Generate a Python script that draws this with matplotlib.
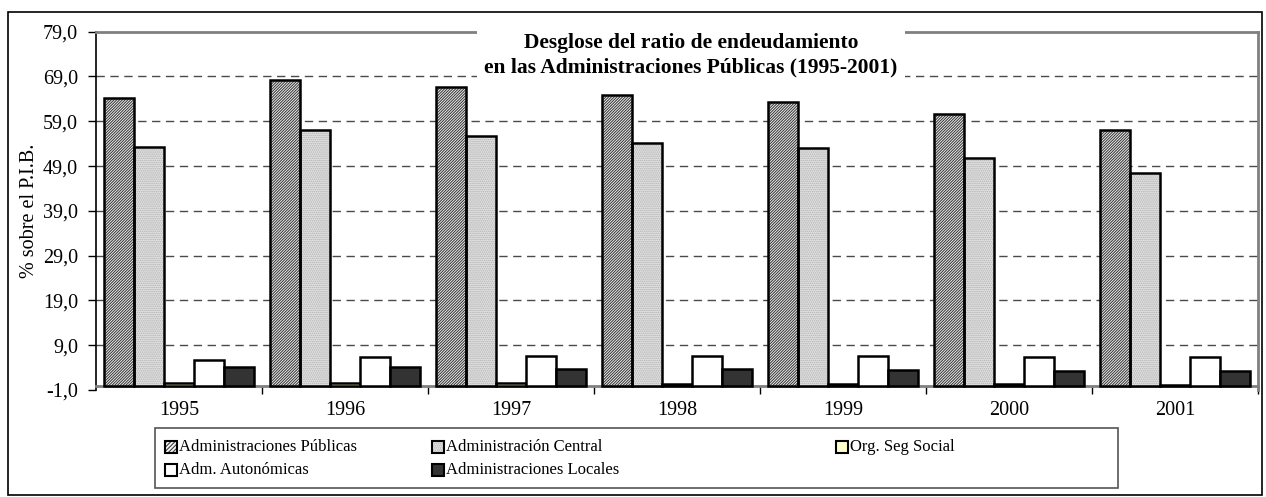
import numpy as np
import matplotlib.pyplot as plt
from matplotlib.patches import Rectangle

plt.rcParams['font.family'] = ['Liberation Serif', 'DejaVu Serif']
plt.rcParams['hatch.linewidth'] = 0.75

# Data (% of GDP)
years = ['1995', '1996', '1997', '1998', '1999', '2000', '2001']
adm_publicas = [64.1, 68.3, 66.7, 64.9, 63.2, 60.7, 57.0]
adm_central = [53.3, 57.1, 55.8, 54.1, 53.0, 50.9, 47.4]
seg_social = [0.6, 0.5, 0.5, 0.4, 0.4, 0.3, 0.2]
adm_autonomicas = [5.8, 6.4, 6.7, 6.6, 6.5, 6.4, 6.3]
adm_locales = [4.2, 4.2, 3.7, 3.8, 3.5, 3.3, 3.2]

series = [
    ('Administraciones Públicas', adm_publicas, '#f4f4f4', '////////////', '#383838'),
    ('Administración Central', adm_central, '#e2e2e2', '........', '#b0b0b0'),
    ('Org. Seg Social', seg_social, '#ffffcc', None, None),
    ('Adm. Autonómicas', adm_autonomicas, 'white', None, None),
    ('Administraciones Locales', adm_locales, '#333333', None, None),
]
yticks = np.arange(-1, 80, 10)

W, H = 1266, 497
fig = plt.figure(figsize=(W / 100, H / 100), dpi=100)
ax = fig.add_axes([96 / W, 1 - 390 / H, (1258 - 96) / W, (390 - 31.7) / H])

x = np.arange(len(years))
bw = 0.181
for i, (name, vals, fc, hatch, hc) in enumerate(series):
    pos = x - 2 * bw + i * bw
    if hatch:
        ax.bar(pos, vals, bw, color=fc, hatch=hatch, edgecolor=hc, linewidth=0, zorder=3)
        ax.bar(pos, vals, bw, fill=False, edgecolor='black', linewidth=1.8, zorder=4)
    else:
        ax.bar(pos, vals, bw, color=fc, edgecolor='black', linewidth=1.8, zorder=3)

ax.set_xlim(-0.5, len(years) - 0.5)
ax.set_ylim(-1, 79)
ax.set_yticks(yticks)
ax.set_yticklabels([f'{v:.1f}'.replace('.', ',') for v in yticks])
ax.set_ylabel('% sobre el P.I.B.', fontsize=14.5)
ax.yaxis.set_label_coords(-0.049, 0.5)

for v in yticks[1:-1]:
    ax.axhline(v, color='#4a4a4a', linestyle=(0, (6, 4)), linewidth=1.0, zorder=1)

ax.set_xticks(x)
ax.set_xticklabels(years)
ax.set_xticks(np.arange(0.5, len(years) - 0.5 + 1e-9, 1.0), minor=True)
ax.tick_params(axis='x', which='major', length=0, pad=11, labelsize=14.5)
ax.tick_params(axis='x', which='minor', length=6, width=1, direction='out')
ax.tick_params(axis='y', length=6, width=1, direction='out', pad=7, labelsize=14.5)

ax.spines['bottom'].set_position(('data', 0))
ax.spines['bottom'].set_color('#808080')
ax.spines['bottom'].set_linewidth(2)
ax.spines['top'].set_color('#808080')
ax.spines['top'].set_linewidth(2)
ax.spines['right'].set_color('#808080')
ax.spines['right'].set_linewidth(2)
ax.spines['left'].set_linewidth(1.2)

ax.text(0.512, 0.935, 'Desglose del ratio de endeudamiento\nen las Administraciones Públicas (1995-2001)',
        transform=ax.transAxes, ha='center', va='center', fontsize=15.5, fontweight='bold',
        linespacing=1.3, zorder=6,
        bbox=dict(facecolor='white', edgecolor='none', pad=5))

# outer frame
fig.patches.append(Rectangle((8 / W, 1 - 495 / H), (1262 - 8) / W, (495 - 12) / H,
                             transform=fig.transFigure, fill=False, edgecolor='black',
                             linewidth=1.2))

# legend box
fig.patches.append(Rectangle((155 / W, 1 - 488 / H), (1118 - 155) / W, (488 - 428) / H,
                             transform=fig.transFigure, fill=False, edgecolor='#555555',
                             linewidth=1.2))
leg_cols = [165, 432, 836]
leg_rows = [447, 470]
for i, (name, vals, fc, hatch, hc) in enumerate(series):
    cx = leg_cols[i % 3]
    cy = leg_rows[i // 3]
    s = 12
    fig.patches.append(Rectangle((cx / W, 1 - (cy + s / 2) / H), s / W, s / H,
                                 transform=fig.transFigure, facecolor=fc,
                                 hatch=hatch[:8] if hatch else None,
                                 edgecolor=hc if hatch else 'black',
                                 linewidth=0 if hatch else 1.5))
    if hatch:
        fig.patches.append(Rectangle((cx / W, 1 - (cy + s / 2) / H), s / W, s / H,
                                     transform=fig.transFigure, fill=False,
                                     edgecolor='black', linewidth=1.5))
    fig.text((cx + s + 2) / W, 1 - cy / H, name, fontsize=12, va='center', ha='left')

fig.savefig('out.png', dpi=100)
